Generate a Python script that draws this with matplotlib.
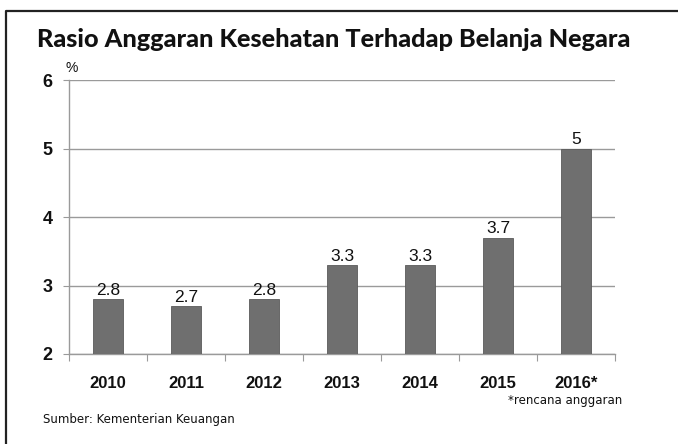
import matplotlib
matplotlib.use("Agg")
import matplotlib.pyplot as plt
from matplotlib.lines import Line2D
from matplotlib import font_manager as fm

years = ["2010", "2011", "2012", "2013", "2014", "2015", "2016*"]
values = [2.8, 2.7, 2.8, 3.3, 3.3, 3.7, 5.0]
value_labels = ["2.8", "2.7", "2.8", "3.3", "3.3", "3.7", "5"]
yticks = [2, 3, 4, 5, 6]

W, H = 678, 444
fig = plt.figure(figsize=(W / 100, H / 100), dpi=100)

def has(name):
    try:
        fm.findfont(fm.FontProperties(family=name), fallback_to_default=False)
        return True
    except Exception:
        return False

narrow = "Liberation Sans Narrow" if has("Liberation Sans Narrow") else (
    "Liberation Sans" if has("Liberation Sans") else "DejaVu Sans")
title_font = "Lato" if has("Lato") else "DejaVu Sans"

ax = fig.add_axes([69 / W, 1 - 354 / H, (615 - 69) / W, (354 - 80) / H])
x = list(range(len(years)))
ax.bar(x, [v - 2 for v in values], bottom=2, width=0.39, color="#6f6f6f",
       edgecolor="#5a5a5a", linewidth=0.6, zorder=3)
ax.set_xlim(-0.5, len(years) - 0.5)
ax.set_ylim(2, 6)
ax.set_yticks(yticks)
ax.set_yticklabels([str(t) for t in yticks], fontsize=13, fontweight="bold",
                   family=narrow, color="#111")
ax.yaxis.grid(True, color="#9a9a9a", linewidth=1.0, zorder=0)
ax.tick_params(axis="y", length=4, color="#9a9a9a", pad=8)
ax.set_xticks([i + 0.5 for i in range(-1, len(years))], minor=False)
ax.set_xticklabels([])
ax.tick_params(axis="x", which="major", length=5, color="#9a9a9a", direction="out")
ax.set_xticks(x, minor=True)
ax.set_xticklabels(years, minor=True, fontsize=12, fontweight="bold",
                   family=narrow, color="#111")
ax.tick_params(axis="x", which="minor", length=0, pad=16)
for s in ["top", "right"]:
    ax.spines[s].set_visible(False)
for s in ["left", "bottom"]:
    ax.spines[s].set_color("#9a9a9a")
    ax.spines[s].set_linewidth(1.0)

for xi, v, lab in zip(x, values, value_labels):
    ax.text(xi, v + 0.02, lab, ha="center", va="bottom", fontsize=12.5,
            family=narrow, color="#111", zorder=4)

fig.text(65 / W, 1 - 68 / H, "%", fontsize=10, family=narrow, color="#111",
         va="center", ha="left")

t = fig.text(37 / W, 1 - 47 / H, "Rasio Anggaran Kesehatan Terhadap Belanja Negara",
             fontsize=16, fontweight="black", family=title_font, color="#111",
             ha="left", va="baseline")
fig.canvas.draw()
bb = t.get_window_extent()
t.set_fontsize(16 * (630 - 37) / bb.width)

fig.text(622 / W, 1 - 400 / H, "*rencana anggaran", fontsize=8.5,
         family="DejaVu Sans", color="#111", ha="right", va="center")
fig.text(43 / W, 1 - 419 / H, "Sumber: Kementerian Keuangan", fontsize=8.5,
         family="DejaVu Sans", color="#111", ha="left", va="center")

fig.add_artist(Line2D([6 / W, 6 / W, 1.0], [0.0, 1 - 11 / H, 1 - 11 / H],
                      transform=fig.transFigure, color="#222", linewidth=1.6))

fig.savefig("out.png", dpi=100)
